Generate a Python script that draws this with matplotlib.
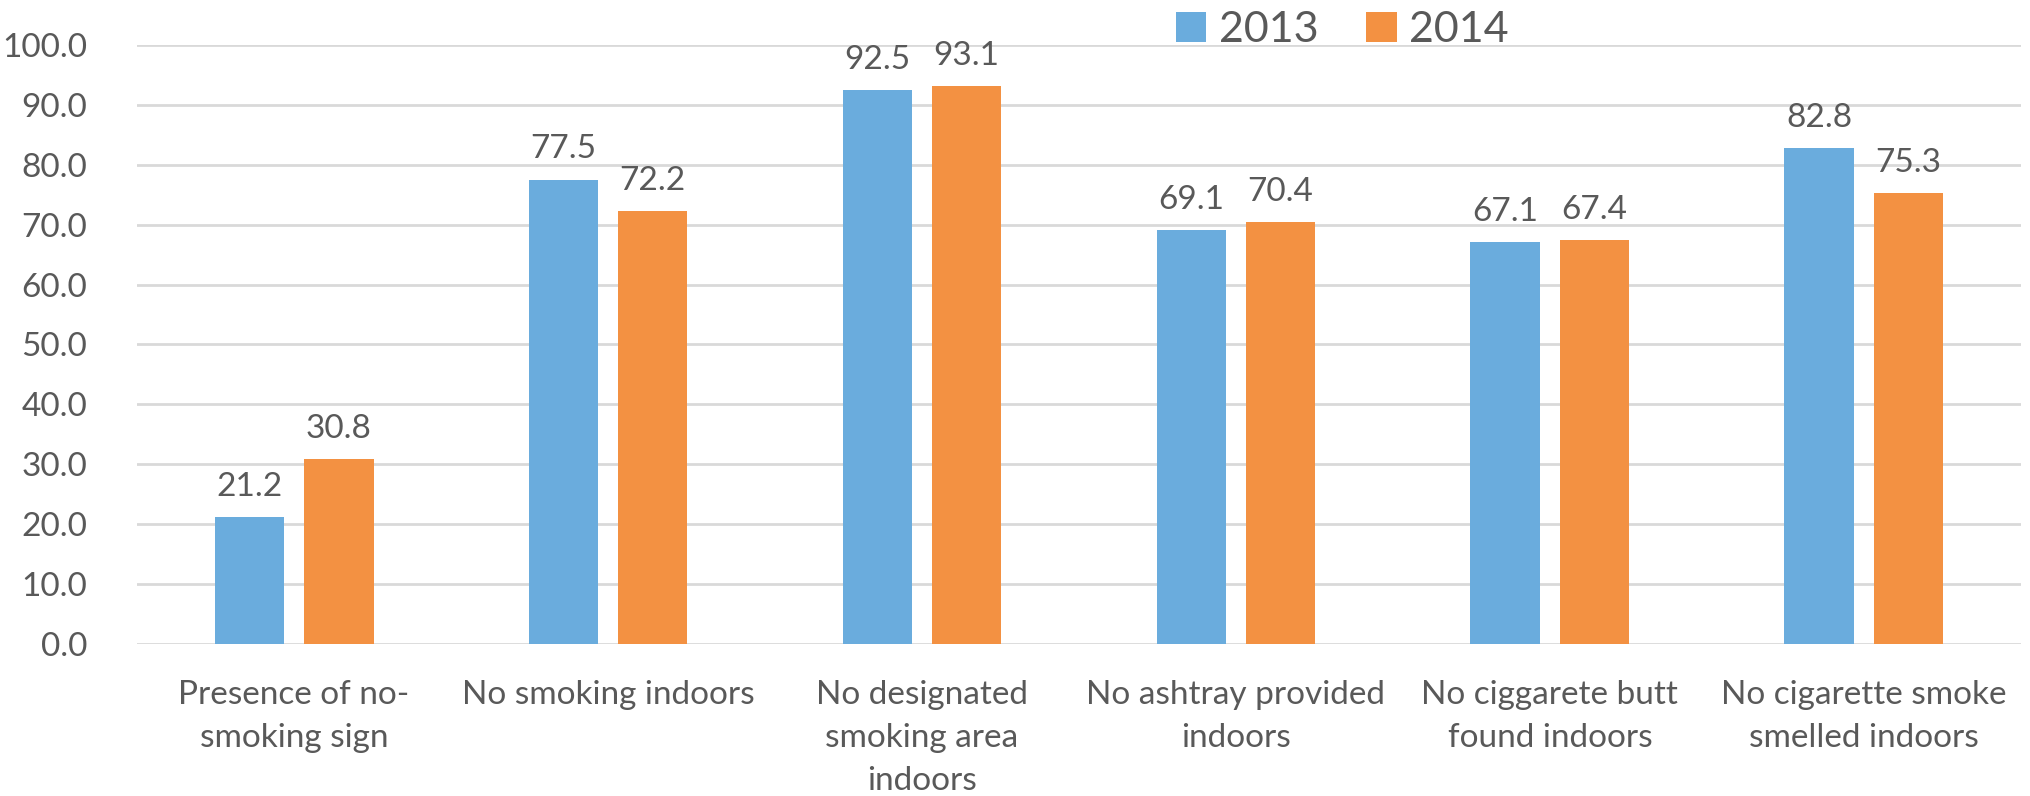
import matplotlib
matplotlib.use("Agg")
import matplotlib.pyplot as plt
import numpy as np

categories = ["Presence of no-\nsmoking sign", "No smoking indoors",
              "No designated\nsmoking area\nindoors", "No ashtray provided\nindoors",
              "No ciggarete butt\nfound indoors", "No cigarette smoke\nsmelled indoors"]
vals_2013 = [21.2, 77.5, 92.5, 69.1, 67.1, 82.8]
vals_2014 = [30.8, 72.2, 93.1, 70.4, 67.4, 75.3]
series_names = ["2013", "2014"]
yticks = [0, 10, 20, 30, 40, 50, 60, 70, 80, 90, 100]

plt.rcParams['font.family'] = ['Lato', 'DejaVu Sans']
TXT = '#595959'
C1 = '#6AACDD'
C2 = '#F39142'
FS = 24

fig = plt.figure(figsize=(20.31, 7.96), dpi=100)
ax = fig.add_axes([0.0675, 0.191, 0.9275, 0.7525])

x = np.arange(len(categories))
w = 0.222
off = 0.142
b1 = ax.bar(x - off, vals_2013, w, color=C1, label=series_names[0], zorder=3)
b2 = ax.bar(x + off, vals_2014, w, color=C2, label=series_names[1], zorder=3)

for bars, vals in ((b1, vals_2013), (b2, vals_2014)):
    for r, v in zip(bars, vals):
        ax.annotate(f"{v:.1f}", (r.get_x() + r.get_width() / 2, v), xytext=(0, 11),
                    textcoords='offset points', ha='center', va='bottom',
                    fontsize=FS, color=TXT)

ax.set_xlim(-0.5, len(categories) - 0.5)
ax.set_ylim(0, 100)
ax.set_yticks(yticks)
ax.set_yticklabels([f"{t:.1f}" for t in yticks], fontsize=FS, color=TXT)
ax.set_xticks(x)
ax.set_xticklabels(categories, fontsize=FS, color=TXT, linespacing=1.55, va='top')
ax.tick_params(axis='both', length=0)
ax.tick_params(axis='y', pad=36)
ax.tick_params(axis='x', pad=26)
ax.grid(axis='y', color='#D9D9D9', linewidth=2, zorder=0)
for s in ax.spines.values():
    s.set_visible(False)

leg = ax.legend(loc='center', bbox_to_anchor=(0.64, 1.025), ncol=2, frameon=False,
                fontsize=31, handlelength=0.7, handleheight=0.7, handletextpad=0.3,
                columnspacing=1.1, labelcolor=TXT)

fig.savefig("out.png", dpi=100)
